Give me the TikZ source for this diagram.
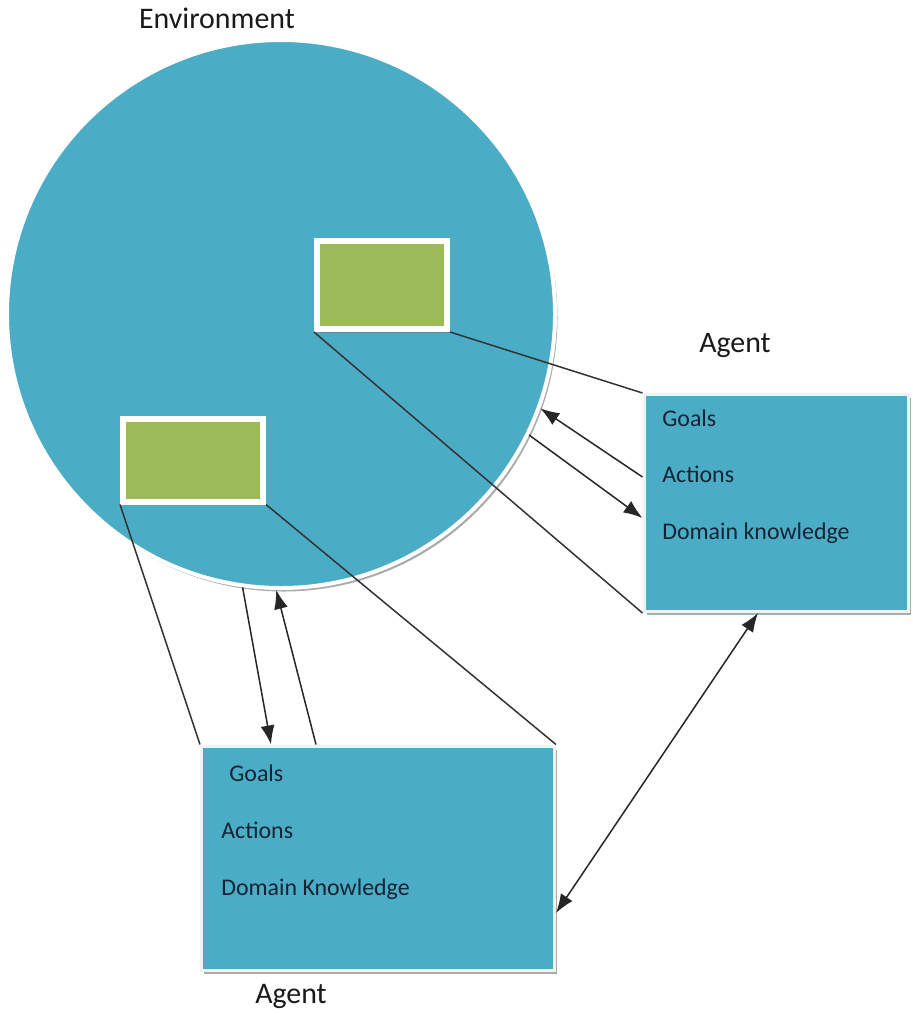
\documentclass[tikz,border=0pt]{standalone}
\usepackage{fontspec}
\setmainfont{Carlito}
\usetikzlibrary{calc,arrows.meta,shadows,positioning}
\usepackage{xcolor}
\definecolor{envblue}{RGB}{75,172,198}
\definecolor{leafgreen}{RGB}{155,187,89}
\definecolor{inkblue}{RGB}{20,36,52}

\begin{document}
\begin{tikzpicture}[x=0.2mm,y=-0.2mm]
  \tikzset{%
    softshadow/.style={drop shadow={shadow xshift=0.5mm,shadow yshift=-0.7mm,fill=black!55,opacity=0.6}},%
    envdisk/.style={circle, draw=white, line width=0.8mm, fill=envblue, inner sep=0pt, minimum size=109.6mm, softshadow},%
    greenbox/.style={rectangle, draw=white, line width=1.2mm, fill=leafgreen, inner sep=0pt, softshadow},%
    agentbox/.style={rectangle, draw=white!95!black, line width=0.6mm, fill=envblue, inner sep=0pt, softshadow},%
    title/.style={font=\fontsize{17}{20}\selectfont, text=black!90},%
    item/.style={anchor=base west, font=\fontsize{13.6}{16}\selectfont, text=inkblue, inner sep=0pt},%
    link/.style={line width=0.3mm, black!80},%
    flow/.style={line width=0.3mm, black!85, -{Latex[length=3.8mm,width=2.8mm]}}%
  }%
  \useasboundingbox (0,0) rectangle (913,1014);

  %
  % Environment
  %
  \node[envdisk] (env) at (281,314) {};
  \node[title] (envtitle) at (217,18) {Environment};

  % Inner boxes
  \node[greenbox, minimum width=26mm, minimum height=17.6mm] (spotA) at (382,285) {};
  \node[greenbox, minimum width=28mm, minimum height=16.6mm] (spotB) at (193,460) {};

  %
  % Agents
  %
  \node[agentbox, minimum width=52.8mm, minimum height=43.4mm] (agentR) at (776,503) {};
  \node[title] (agentRtitle) at (735,345) {Agent};
  \node[agentbox, minimum width=70.6mm, minimum height=44.8mm] (agentB) at (378,858) {};
  \node[title] (agentBtitle) at (291,996) {Agent};

  % Contents
  \node[item] (goalsR) at (662,426) {Goals};
  \node[item] (actionsR) at (662,482) {Actions};
  \node[item] (domainR) at (662,539) {Domain knowledge};
  \node[item] (goalsB) at (229,781) {Goals};
  \node[item] (actionsB) at (221,838) {Actions};
  \node[item] (domainB) at (221,895) {Domain Knowledge};

  %
  % Links
  %
  \draw[link] (spotA.south east) -- (agentR.north west);
  \draw[link] (spotA.south west) -- (agentR.south west);
  \draw[link] (spotB.south west) -- (agentB.north west);
  \draw[link] (spotB.south east) -- (agentB.north east);

  % Percepts and actions
  \draw[flow] (agentR.west |- 0,477) -- (env.-20);
  \draw[flow] (env.-26) -- (agentR.west |- 0,518);
  \draw[flow] (env.-98) -- (agentB.north -| 271,0);
  \draw[flow] (agentB.north -| 316,0) -- (env.-91);

  % Agent to agent
  \draw[flow, {Latex[length=3.8mm,width=2.8mm]}-{Latex[length=3.8mm,width=2.8mm]}] (agentR.south -| 758,0) -- (agentB.east |- 0,913);
\end{tikzpicture}
\end{document}
